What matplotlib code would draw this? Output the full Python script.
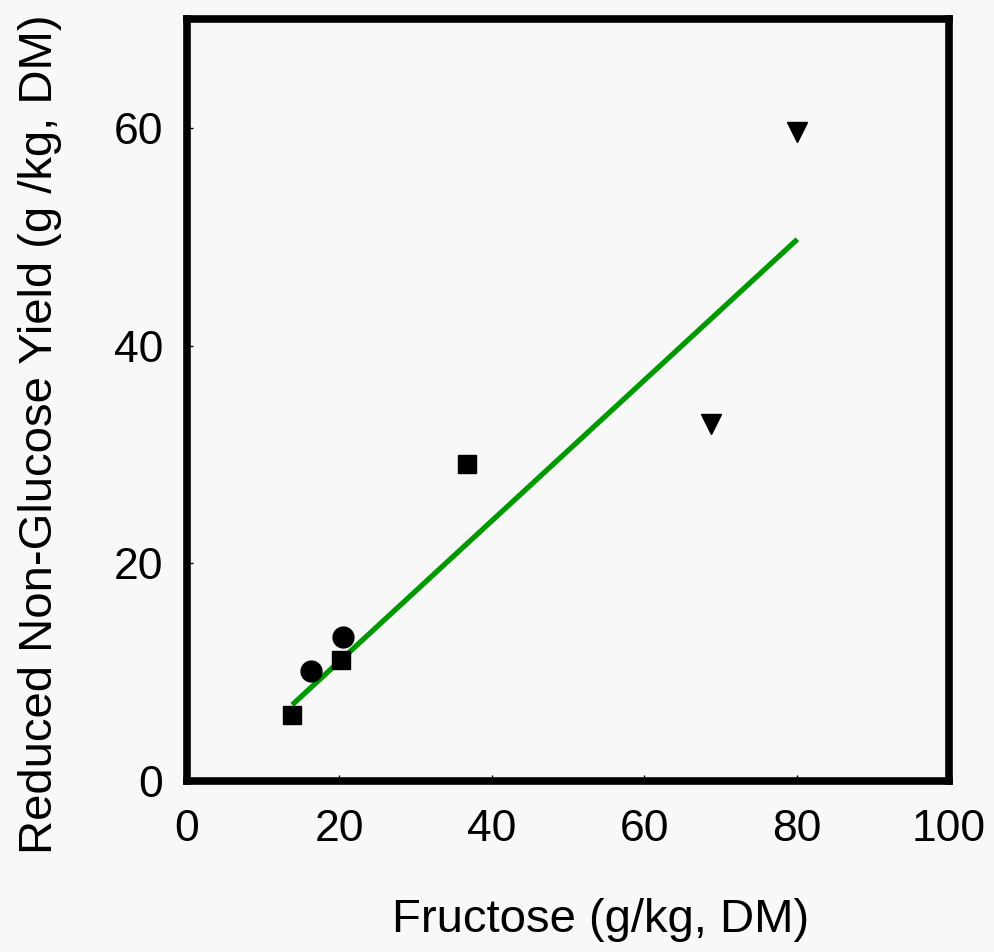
import matplotlib
matplotlib.use("Agg")
import matplotlib.pyplot as plt

plt.rcParams['font.family'] = ['Liberation Sans', 'DejaVu Sans']

# Data
sq_x = [13.8, 20.2, 36.7]
sq_y = [6.1, 11.1, 29.1]
ci_x = [16.3, 20.5]
ci_y = [10.1, 13.2]
tri_x = [68.8, 80.1]
tri_y = [32.8, 59.7]
fit_x = [13.8, 80.1]
fit_y = [7.0, 49.8]

xticks = [0, 20, 40, 60, 80, 100]
yticks = [0, 20, 40, 60]

bg = '#f8f8f8'
fig = plt.figure(figsize=(9.95, 9.52), dpi=100, facecolor=bg)
ax = fig.add_axes([187/995, 1 - 781/952, (949-187)/995, (781-19.5)/952])
ax.set_facecolor(bg)

ax.plot(fit_x, fit_y, color='#009900', lw=3.8, solid_capstyle='butt', zorder=2)
ax.plot(sq_x, sq_y, 's', color='black', ms=13, zorder=3)
ax.plot(ci_x, ci_y, 'o', color='black', ms=15, zorder=3)
ax.plot(tri_x, tri_y, 'v', color='black', ms=15, zorder=3)

ax.set_xlim(0, 100)
ax.set_ylim(0, 70)
ax.set_xticks(xticks)
ax.set_yticks(yticks)
ax.tick_params(direction='in', length=4, width=1, labelsize=32)
ax.tick_params(axis='x', pad=20)
ax.tick_params(axis='y', pad=17)
for s in ax.spines.values():
    s.set_linewidth(5.5)

ax.set_xlabel('Fructose (g/kg, DM)', fontsize=34, va='center')
ax.xaxis.set_label_coords((601-187)/762, (781-920)/761.5)
ax.set_ylabel('Reduced Non-Glucose Yield (g /kg, DM)', fontsize=34, va='center')
ax.yaxis.set_label_coords((40-187)/762, (781-434)/761.5)

fig.savefig('out.png', dpi=100, facecolor=bg)
